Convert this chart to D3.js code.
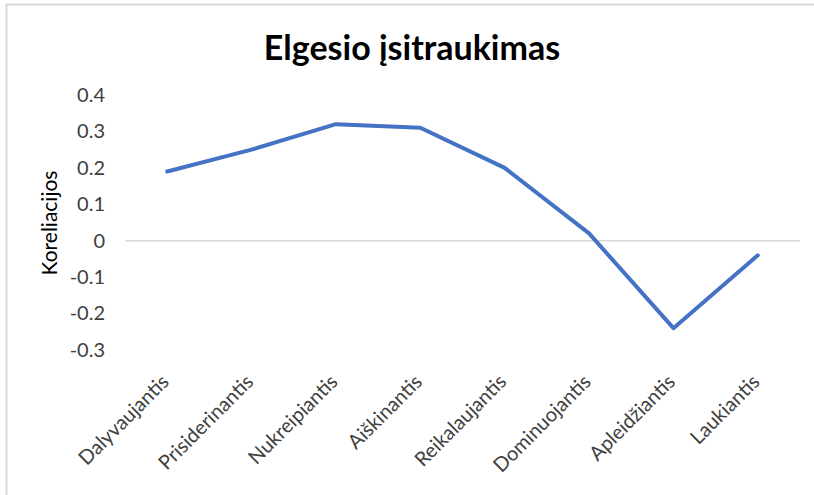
<!DOCTYPE html>
<html>
<head>
<meta charset="utf-8">
<script src="https://cdn.jsdelivr.net/npm/d3@7"></script>
<style>
  html, body { margin: 0; padding: 0; background: #fff; }
  svg { display: block; }
</style>
</head>
<body>
<script>
const categories = ["Dalyvaujantis", "Prisiderinantis", "Nukreipiantis", "Aiškinantis", "Reikalaujantis", "Dominuojantis", "Apleidžiantis", "Laukiantis"];
const values = [0.19, 0.25, 0.32, 0.31, 0.20, 0.02, -0.24, -0.04];
const yTicks = [-0.3, -0.2, -0.1, 0, 0.1, 0.2, 0.3, 0.4];
const title = "Elgesio įsitraukimas";
const yTitle = "Koreliacijos";

const W = 814, H = 495;
const FONT = "Lato, 'Open Sans', sans-serif";
const svg = d3.select("body").append("svg").attr("width", W).attr("height", H);

// chart frame
svg.append("rect").attr("x", 6.5).attr("y", 4.5).attr("width", W + 10).attr("height", H + 10)
  .attr("fill", "none").attr("stroke", "#d9d9d9").attr("stroke-width", 2);

const x = d3.scaleBand().domain(categories).range([125, 800]);
const y = d3.scaleLinear().domain([-0.3, 0.4]).range([350, 95]);

// zero line
svg.append("line").attr("x1", 125).attr("x2", 800)
  .attr("y1", y(0)).attr("y2", y(0))
  .attr("stroke", "#d9d9d9").attr("stroke-width", 1.5);

// y axis labels
const yAxis = d3.axisLeft(y).tickValues(yTicks).tickSize(0).tickPadding(0)
  .tickFormat(d => d === 0 ? "0" : d3.format(".1f")(d).replace("\u2212", "-"));
const ya = svg.append("g").attr("transform", "translate(105,0)").call(yAxis);
ya.select(".domain").remove();
ya.selectAll("text").attr("font-family", FONT).attr("font-size", 20).attr("fill", "#404040");

// x axis labels
const xAxis = d3.axisBottom(x).tickSize(0).tickPadding(0);
const xa = svg.append("g").call(xAxis);
xa.select(".domain").remove();
xa.selectAll(".tick").attr("transform", d => `translate(${x(d) + x.bandwidth() / 2 + 3},383)`);
xa.selectAll("text")
  .attr("y", 0).attr("dy", 0).attr("x", 0)
  .attr("text-anchor", "end")
  .attr("transform", "rotate(-45)")
  .attr("font-family", FONT).attr("font-size", 20).attr("fill", "#404040");

// line
const line = d3.line()
  .x((d, i) => x(categories[i]) + x.bandwidth() / 2)
  .y(d => y(d));
svg.append("path").datum(values).attr("d", line)
  .attr("fill", "none").attr("stroke", "#4472C4").attr("stroke-width", 4)
  .attr("stroke-linejoin", "round").attr("stroke-linecap", "round");

// titles
svg.append("text").attr("x", 412).attr("y", 60).attr("text-anchor", "middle")
  .attr("font-family", FONT).attr("font-weight", "bold").attr("font-size", 34)
  .attr("fill", "#000").text(title);

svg.append("text").attr("transform", "translate(57,223) rotate(-90)").attr("text-anchor", "middle")
  .attr("font-family", FONT).attr("font-size", 21)
  .attr("fill", "#000").text(yTitle);
</script>
</body>
</html>
